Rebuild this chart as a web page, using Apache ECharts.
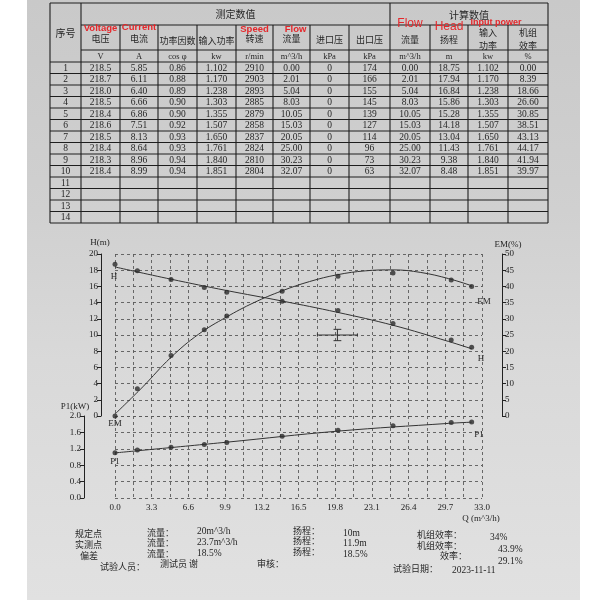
<!DOCTYPE html>
<html><head><meta charset="utf-8">
<script src="https://cdn.jsdelivr.net/npm/echarts@6/dist/echarts.min.js"></script>
<style>
html,body{margin:0;padding:0;background:#fff;}
#paper{position:absolute;left:27px;top:0;width:553px;height:600px;background:linear-gradient(180deg,#c9c9c9 0%,#d0d0d0 35%,#d9d9d9 60%,#e1e1e1 100%);}
#chart{position:absolute;left:0;top:0;width:600px;height:600px;}
</style></head>
<body><div id="paper"></div><div id="chart"></div>
<script>
// ---- measured data (table) ----
const voltage = [218.5,218.7,218.0,218.5,218.4,218.6,218.5,218.4,218.3,218.4];
const current = [5.85,6.11,6.40,6.66,6.86,7.51,8.13,8.64,8.96,8.99];
const powerFactor = [0.86,0.88,0.89,0.90,0.90,0.92,0.93,0.93,0.94,0.94];
const inputPower = [1.102,1.170,1.238,1.303,1.355,1.507,1.650,1.761,1.840,1.851];
const speed = [2910,2903,2893,2885,2879,2858,2837,2824,2810,2804];
const flow = [0.00,2.01,5.04,8.03,10.05,15.03,20.05,25.00,30.23,32.07];
const inletPressure = [0,0,0,0,0,0,0,0,0,0];
const outletPressure = [174,166,155,145,139,127,114,96,73,63];
// ---- calculated data ----
const calcFlow = [0.00,2.01,5.04,8.03,10.05,15.03,20.05,25.00,30.23,32.07];
const head = [18.75,17.94,16.84,15.86,15.28,14.18,13.04,11.43,9.38,8.48];
const calcPower = [1.102,1.170,1.238,1.303,1.355,1.507,1.650,1.761,1.840,1.851];
const efficiency = [0.00,8.39,18.66,26.60,30.85,38.51,43.13,44.17,41.94,39.97];
// ---- fitted curves ----
const headFitQ = [0,5,10,15,20,25,30,32.07];
const headFitH = [18.4,16.9,15.5,14.2,12.8,11.2,9.2,8.3];
const effFitQ = [0,2.5,5,7.5,10,12.5,15,17.5,20,22.5,25,27.5,30,32.07];
const effFitE = [0.6,9,18,25.2,30.5,35,38.6,41.5,43.6,44.8,45.1,44.3,42.4,40.2];
const powFitQ = [0,10,20,30,32.07];
const powFitP = [1.10,1.36,1.63,1.82,1.85];
// ---- rated point tolerance cross ----
const ratedFlow = 20, ratedHead = 10;
const flowTol = [18.2,21.8];
const headTol = [9.3,10.7];
// ---- axis ticks ----
const qMax = 33.0, qStep = 3.3;
const hMax = 20, hStep = 2;
const emMax = 50, emStep = 5;
const pMax = 2.0, pStep = 0.4;
// ---- footer texts ----
const footer = [
 ['规定点',75,534],['流量：',147,533],['20m^3/h',197,531],['扬程：',293,531],['10m',343,533],['机组效率：',417,535],['34%',490,537],
 ['实测点',75,545],['流量：',147,543],['23.7m^3/h',197,542],['扬程：',293,541],['11.9m',343,543],['机组效率：',417,546],['43.9%',498,549],
 ['偏差',80,556],['流量：',147,554],['18.5%',197,553],['扬程：',293,552],['18.5%',343,554],['效率：',440,556],['29.1%',498,561],
 ['试验人员：',100,567],['测试员 谢',160,564],['审核：',257,564],['试验日期：',393,569],['2023-11-11',452,570]
];

const CJK = '"Noto Sans CJK SC"';
const NUM = '"Liberation Serif"';
const INK = '#262626';
const RED = '#e5272b';

function txt(t,x,y,font,opt){
  opt = opt||{};
  return {type:'text', x:x, y:y, z:10, style:{text:t, font:font, fill:opt.fill||INK,
    textAlign:opt.align||'center', align:opt.align||'center',
    textVerticalAlign:'middle', verticalAlign:'middle'}};
}
function seg(x1,y1,x2,y2){
  return {type:'line', z:9, shape:{x1:x1,y1:y1,x2:x2,y2:y2}, style:{stroke:'#1e1e1e', lineWidth:1.1}};
}

// ---- table layout ----
const cols = [50,81,120,158,197,236,273,310,349,390,430,468,508,548];
const yTop = 3, yH1 = 25, yH2 = 50, yH3 = 62, rowH = 11.5, nRows = 14;
const yBot = yH3 + rowH*nRows;
const g = [];
g.push(seg(cols[0],yTop,cols[13],yTop));
g.push(seg(cols[1],yH1,cols[13],yH1));
g.push(seg(cols[1],yH2,cols[13],yH2));
for(let k=0;k<=nRows;k++){ const y=yH3+rowH*k; g.push(seg(cols[0],y,cols[13],y)); }
[0,1,9,13].forEach(i=>g.push(seg(cols[i],yTop,cols[i],yBot)));
[2,3,4,5,6,7,8,10,11,12].forEach(i=>g.push(seg(cols[i],yH1,cols[i],yBot)));
const cx = i => (cols[i]+cols[i+1])/2;
const F9 = '9px '+CJK, FN = '9.5px '+NUM;
g.push(txt('序号',cx(0),33,'10px '+CJK));
g.push(txt('测定数值',(cols[1]+cols[9])/2,14,'10px '+CJK));
g.push(txt('计算数值',(cols[9]+cols[13])/2,15,'10px '+CJK));
const hdr = ['电压','电流','功率因数','输入功率','转速','流量','进口压','出口压','流量','扬程'];
const hdrY = [39,39,41,41,39,39,40,40,40,40];
hdr.forEach((t,i)=>g.push(txt(t,cx(i+1),hdrY[i],F9)));
g.push(txt('输入',cx(11),33,F9)); g.push(txt('功率',cx(11),46,F9));
g.push(txt('机组',cx(12),33,F9)); g.push(txt('效率',cx(12),46,F9));
const units = ['V','A','cos φ','kw','r/min','m^3/h','kPa','kPa','m^3/h','m','kw','%'];
units.forEach((t,i)=>g.push(txt(t,cx(i+1),56.5,'8.5px '+NUM)));
// red annotations
const RB = 'bold 9.5px "Liberation Sans"';
g.push(txt('Voltage',cx(1),28,RB,{fill:RED}));
g.push(txt('Current',cx(2),27,RB,{fill:RED}));
g.push(txt('Speed',cx(5),29,RB,{fill:RED}));
g.push(txt('Flow',cx(6)+4,29,RB,{fill:RED}));
g.push(txt('Flow',410,24,'12px "Liberation Sans"',{fill:RED}));
g.push(txt('Head',449,27,'12px "Liberation Sans"',{fill:RED}));
g.push(txt('Input power',496,23,'bold 9px "Liberation Sans"',{fill:RED}));
// table body
const tableCols = [[voltage,1],[current,2],[powerFactor,2],[inputPower,3],[speed,0],[flow,2],[inletPressure,0],[outletPressure,0],[calcFlow,2],[head,2],[calcPower,3],[efficiency,2]];
for(let r=0;r<nRows;r++){
  const y = yH3 + rowH*r + rowH/2 + 0.5;
  g.push(txt(String(r+1),cx(0),y,FN));
  if(r<voltage.length){
    tableCols.forEach((c,i)=>g.push(txt(c[0][r].toFixed(c[1]),cx(i+1),y,FN)));
  }
}
// chart axis names and curve labels
const FC = '9px '+NUM;
g.push(txt('H(m)',100,243,FC));
g.push(txt('P1(kW)',75,407,FC));
g.push(txt('EM(%)',508,245,FC));
g.push(txt('Q (m^3/h)',481,519,FC));
g.push(txt('H',114,277,FC)); g.push(txt('EM',115,424,FC)); g.push(txt('P1',115,462,FC));
g.push(txt('EM',484,302,FC)); g.push(txt('H',481,359,FC)); g.push(txt('P1',479,435,FC));
footer.forEach(f=>g.push(txt(f[0],f[1],f[2],(/[0-9]/.test(f[0])?'9.5px '+NUM:'9px '+CJK),{align:'left'})));

const dash = {show:true, lineStyle:{type:[3,3], color:'#5a5a5a', width:0.9}};
const xBase = {type:'value', min:0, max:qMax, interval:qStep, axisLine:{show:false}, axisTick:{show:false},
  splitLine:dash, minorTick:{show:false, splitNumber:2}, minorSplitLine:dash};
const yBase = {type:'value', axisLine:{show:true, onZero:false, lineStyle:{color:'#222', width:1}},
  axisTick:{show:true, length:4, lineStyle:{color:'#222'}},
  axisLabel:{fontSize:9, fontFamily:'Liberation Serif', color:'#222', margin:3}};

const zip = (a,b)=>a.map((v,i)=>[v,b[i]]);
const dot = {type:'scatter', symbol:'circle', symbolSize:5, itemStyle:{color:'#2b2b2b'}, z:5};
const fit = {type:'line', smooth:0.4, showSymbol:false, lineStyle:{color:'#333', width:1}, z:4};

const crossSegs = [
  [[flowTol[0],ratedHead],[flowTol[1],ratedHead]],
  [[flowTol[0],ratedHead-0.2],[flowTol[0],ratedHead+0.2]],
  [[flowTol[1],ratedHead-0.2],[flowTol[1],ratedHead+0.2]],
  [[ratedFlow,headTol[0]],[ratedFlow,headTol[1]]],
  [[ratedFlow-0.35,headTol[0]],[ratedFlow+0.35,headTol[0]]],
  [[ratedFlow-0.35,headTol[1]],[ratedFlow+0.35,headTol[1]]]
];

const series = [
  Object.assign({}, fit, {xAxisIndex:0, yAxisIndex:0, data:zip(headFitQ,headFitH)}),
  Object.assign({}, dot, {xAxisIndex:0, yAxisIndex:0, data:zip(calcFlow,head)}),
  Object.assign({}, fit, {xAxisIndex:0, yAxisIndex:1, data:zip(effFitQ,effFitE)}),
  Object.assign({}, dot, {xAxisIndex:0, yAxisIndex:1, data:zip(calcFlow,efficiency)}),
  Object.assign({}, fit, {xAxisIndex:1, yAxisIndex:2, data:zip(powFitQ,powFitP)}),
  Object.assign({}, dot, {xAxisIndex:1, yAxisIndex:2, data:zip(calcFlow,calcPower)})
];
crossSegs.forEach(s=>series.push({type:'line', xAxisIndex:0, yAxisIndex:0, data:s, showSymbol:false,
  lineStyle:{color:'#333', width:1}, z:4, silent:true}));

const chart = echarts.init(document.getElementById('chart'));
chart.setOption({
  animation:false,
  backgroundColor:'transparent',
  grid:[{left:115, top:254, width:367, height:162}, {left:115, top:416, width:367, height:82}],
  xAxis:[
    Object.assign({}, xBase, {gridIndex:0, axisLabel:{show:false}}),
    Object.assign({}, xBase, {gridIndex:1, axisLabel:{show:true, margin:5, fontSize:9, fontFamily:'Liberation Serif', color:'#222', formatter:v=>v.toFixed(1)}})
  ],
  yAxis:[
    Object.assign({}, yBase, {gridIndex:0, min:0, max:hMax, interval:hStep, position:'left', offset:14, splitLine:dash}),
    Object.assign({}, yBase, {gridIndex:0, min:0, max:emMax, interval:emStep, position:'right', offset:20, splitLine:{show:false}}),
    Object.assign({}, yBase, {gridIndex:1, min:0, max:pMax, interval:pStep, position:'left', offset:31, splitLine:dash,
      axisLabel:Object.assign({}, yBase.axisLabel, {formatter:v=>v.toFixed(1)})})
  ],
  graphic:{elements:g},
  series:series
});
</script></body></html>
